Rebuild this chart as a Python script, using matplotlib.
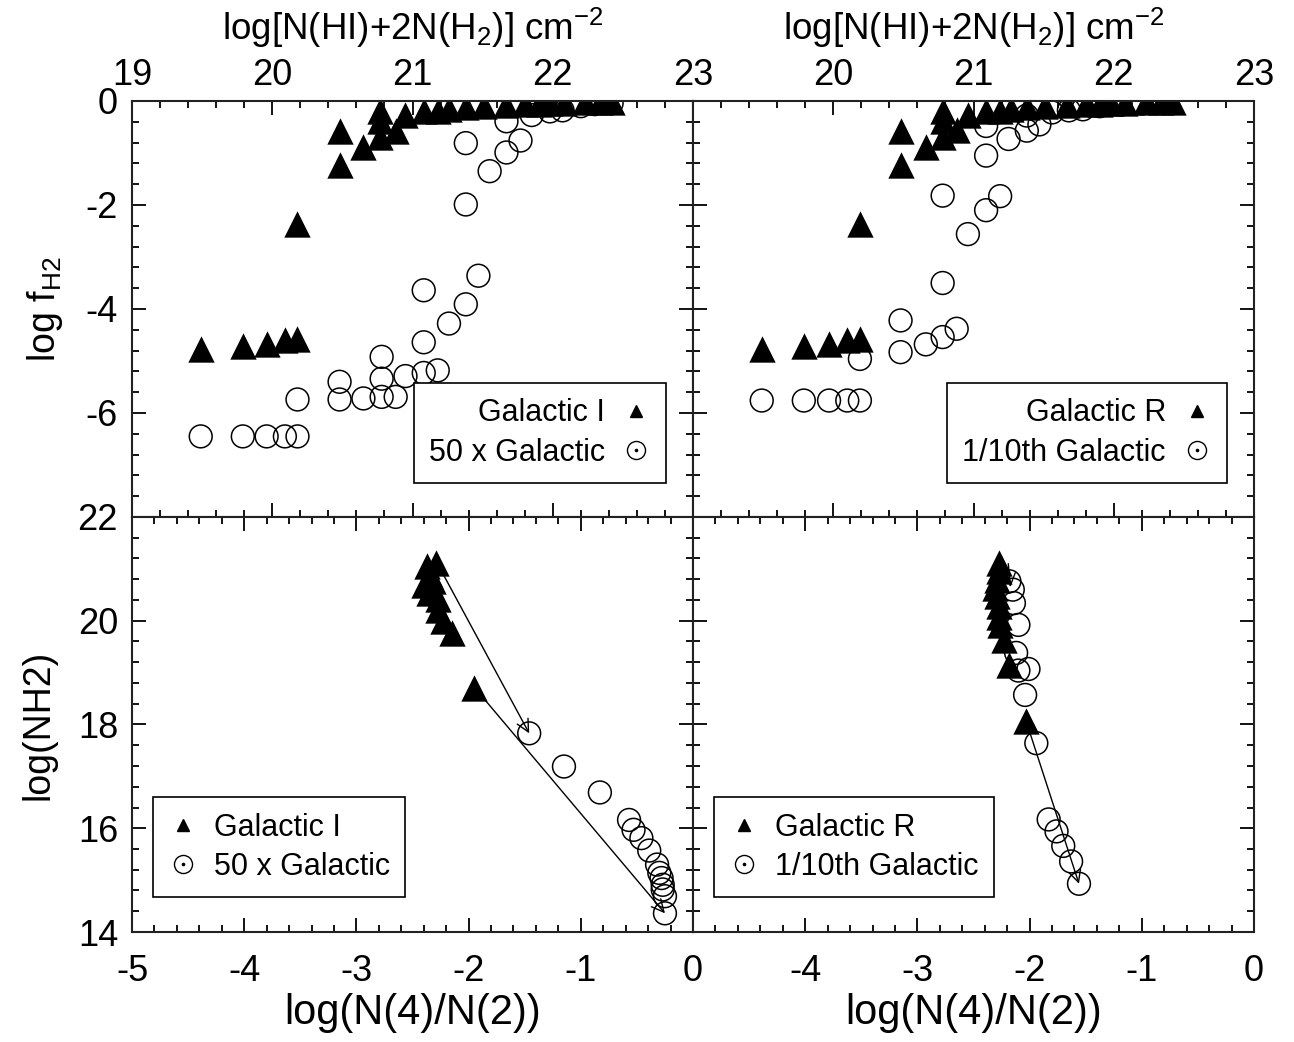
import matplotlib
matplotlib.use("Agg")
import matplotlib.pyplot as plt
from matplotlib.lines import Line2D
from matplotlib.ticker import MultipleLocator

plt.rcParams['font.family'] = ['Liberation Sans', 'DejaVu Sans']
plt.rcParams['axes.unicode_minus'] = False
plt.rcParams['mathtext.fontset'] = 'custom'
plt.rcParams['mathtext.rm'] = 'Liberation Sans'
plt.rcParams['mathtext.it'] = 'Liberation Sans'
plt.rcParams['mathtext.bf'] = 'Liberation Sans'

# top panels: log f_H2 against log[N(HI)+2N(H2)]
tl_tri_x = [19.49, 19.79, 19.96, 20.09, 20.18, 20.18, 20.48, 20.48, 20.65, 20.77, 20.77, 20.77,
            20.88, 20.95, 21.08, 21.18, 21.26, 21.38, 21.51, 21.67, 21.80, 21.90, 21.98, 22.08,
            22.23, 22.34, 22.42]
tl_tri_y = [-4.76, -4.72, -4.67, -4.60, -4.57, -2.36, -0.57, -1.24, -0.89, -0.70, -0.38, -0.20,
            -0.57, -0.27, -0.20, -0.19, -0.16, -0.12, -0.10, -0.08, -0.06, -0.05, -0.04, -0.03,
            -0.02, -0.02, -0.02]
tl_cir_x = [19.49, 19.79, 19.96, 20.09, 20.18, 20.18, 20.48, 20.48, 20.65, 20.78, 20.78, 20.78,
            20.88, 20.95, 21.08, 21.08, 21.08, 21.18, 21.26, 21.38, 21.38, 21.38, 21.47, 21.55,
            21.67, 21.67, 21.77, 21.85, 21.98, 22.07, 22.20, 22.30, 22.42]
tl_cir_y = [-6.45, -6.45, -6.45, -6.45, -6.45, -5.74, -5.74, -5.40, -5.72, -5.69, -5.34, -4.92,
            -5.69, -5.29, -5.23, -4.64, -3.64, -5.18, -4.28, -3.91, -1.99, -0.81, -3.36, -1.35,
            -0.99, -0.39, -0.76, -0.27, -0.20, -0.18, -0.10, -0.06, -0.04]

tr_tri_x = [19.49, 19.79, 19.97, 20.10, 20.19, 20.19, 20.48, 20.48, 20.66, 20.78, 20.78, 20.78,
            20.88, 20.96, 21.09, 21.19, 21.27, 21.38, 21.51, 21.67, 21.80, 21.90, 21.98, 22.08,
            22.23, 22.34, 22.42]
tr_tri_y = [-4.76, -4.72, -4.67, -4.60, -4.57, -2.36, -0.57, -1.24, -0.89, -0.70, -0.38, -0.20,
            -0.56, -0.27, -0.20, -0.19, -0.16, -0.12, -0.10, -0.08, -0.06, -0.05, -0.04, -0.03,
            -0.02, -0.02, -0.02]
tr_cir_x = [19.49, 19.79, 19.97, 20.10, 20.19, 20.19, 20.48, 20.48, 20.66, 20.78, 20.88, 20.78,
            20.96, 21.09, 21.19, 20.78, 21.09, 21.25, 21.09, 21.38, 21.47, 21.38, 21.56, 21.68,
            21.78, 21.90, 22.05, 22.20, 22.35]
tr_cir_y = [-5.76, -5.76, -5.76, -5.76, -5.76, -4.96, -4.83, -4.22, -4.68, -4.54, -4.38, -3.50,
            -2.56, -2.10, -1.83, -1.82, -1.05, -0.73, -0.48, -0.57, -0.45, -0.28, -0.22, -0.18,
            -0.16, -0.10, -0.07, -0.05, -0.04]

# bottom panels: log(NH2) against log(N(4)/N(2))
bl_tri_x = [-2.29, -2.37, -2.34, -2.40, -2.32, -2.35, -2.27, -2.27, -2.23, -2.15, -1.95]
bl_tri_y = [21.11, 21.05, 20.89, 20.69, 20.76, 20.53, 20.41, 20.21, 19.99, 19.76, 18.70]
bl_cir_x = [-1.46, -1.15, -0.83, -0.57, -0.53, -0.46, -0.39, -0.32, -0.30, -0.28, -0.27, -0.27,
            -0.25, -0.25]
bl_cir_y = [17.83, 17.19, 16.69, 16.16, 15.97, 15.81, 15.57, 15.30, 15.14, 15.04, 14.91, 14.82,
            14.69, 14.36]

br_tri_x = [-2.27, -2.27, -2.29, -2.31, -2.29, -2.27, -2.27, -2.26, -2.23, -2.18, -2.03]
br_tri_y = [21.11, 20.95, 20.79, 20.63, 20.47, 20.28, 20.08, 19.92, 19.63, 19.15, 18.06]
br_cir_x = [-2.18, -2.15, -2.14, -2.10, -2.12, -2.10, -2.01, -2.04, -1.94, -1.83, -1.76, -1.70,
            -1.63, -1.56]
br_cir_y = [20.76, 20.60, 20.34, 19.92, 19.38, 19.04, 19.07, 18.57, 17.64, 16.17, 15.94, 15.66,
            15.36, 14.93]

# arrows (start, end) in data units
bl_arrows = [((-2.29, 21.15), (-1.46, 17.83)), ((-1.95, 18.72), (-0.25, 14.36))]
br_arrows = [((-2.19, 21.10), (-2.17, 20.65)), ((-2.03, 18.06), (-1.56, 14.93))]

top_labels = [["Galactic I", "50 x Galactic"], ["Galactic R", "1/10th Galactic"]]

W, H = 1294, 1042
fig = plt.figure(figsize=(W / 100, H / 100), dpi=100)

def px_axes(x0, y0, x1, y1):
    return fig.add_axes([x0 / W, 1 - y1 / H, (x1 - x0) / W, (y1 - y0) / H])

ax_tl = px_axes(132, 101, 693, 517)
ax_tr = px_axes(693, 101, 1254, 517)
ax_bl = px_axes(132, 517, 693, 932)
ax_br = px_axes(693, 517, 1254, 932)

TICK_FS = 26
LEG_FS = 22

def style(ax):
    for s in ax.spines.values():
        s.set_linewidth(1.5)
        s.set_color('#222222')
    ax.tick_params(which='both', direction='in', top=True, bottom=True, left=True, right=True,
                   labelsize=TICK_FS, width=1.3)
    ax.tick_params(axis='x', which='major', pad=16)
    ax.tick_params(axis='y', which='major', pad=10)
    ax.tick_params(which='major', length=10)
    ax.tick_params(which='minor', length=5)

def legend_handles():
    tri = Line2D([], [], ls='none', marker='^', ms=8, color='k')
    ring = Line2D([], [], ls='none', marker='o', ms=13, mfc='none', mec='k', mew=1)
    dot = Line2D([], [], ls='none', marker='o', ms=1.6, color='k')
    return [tri, (ring, dot)]

for ax, tx, ty, cx, cy, labs in [(ax_tl, tl_tri_x, tl_tri_y, tl_cir_x, tl_cir_y, top_labels[0]),
                                  (ax_tr, tr_tri_x, tr_tri_y, tr_cir_x, tr_cir_y, top_labels[1])]:
    ax.scatter(cx, cy, marker='o', s=270, facecolors='none', edgecolors='k', linewidths=1.1)
    ax.scatter(tx, ty, marker='^', s=360, color='k', linewidths=0)
    ax.set_xlim(19, 23)
    ax.set_ylim(-8, 0)
    ax.xaxis.set_major_locator(MultipleLocator(1))
    ax.xaxis.set_minor_locator(MultipleLocator(0.2))
    ax.yaxis.set_major_locator(MultipleLocator(2))
    ax.yaxis.set_minor_locator(MultipleLocator(0.4))
    style(ax)
    ax.tick_params(labeltop=True, labelbottom=False)
    ax.tick_params(axis='x', which='major', pad=6)
    ax.set_xlabel(r"log[N(HI)+2N(H$_2$)] cm$^{-2}$", fontsize=26.5, labelpad=13)
    ax.xaxis.set_label_position('top')
    ax.legend(legend_handles(), labs, loc='lower right', bbox_to_anchor=(0.952, 0.082),
              borderaxespad=0, markerfirst=False, fancybox=False, framealpha=1,
              edgecolor='k', fontsize=LEG_FS, handlelength=1.0, handletextpad=0.5,
              borderpad=0.5, labelspacing=0.3).get_frame().set_linewidth(1.2)

for ax, tx, ty, cx, cy, arrows, labs in [
        (ax_bl, bl_tri_x, bl_tri_y, bl_cir_x, bl_cir_y, bl_arrows, top_labels[0]),
        (ax_br, br_tri_x, br_tri_y, br_cir_x, br_cir_y, br_arrows, top_labels[1])]:
    ax.scatter(cx, cy, marker='o', s=270, facecolors='none', edgecolors='k', linewidths=1.1)
    ax.scatter(tx, ty, marker='^', s=360, color='k', linewidths=0)
    for (x0, y0), (x1, y1) in arrows:
        ax.annotate('', xy=(x1, y1), xytext=(x0, y0),
                    arrowprops=dict(arrowstyle='->', lw=1, color='k', mutation_scale=22,
                                    shrinkA=0, shrinkB=0))
    ax.set_xlim(-5, 0)
    ax.set_ylim(14, 22)
    ax.xaxis.set_major_locator(MultipleLocator(1))
    ax.xaxis.set_minor_locator(MultipleLocator(0.2))
    ax.yaxis.set_major_locator(MultipleLocator(2))
    ax.yaxis.set_minor_locator(MultipleLocator(0.4))
    style(ax)
    ax.set_xlabel("log(N(4)/N(2))", fontsize=30, labelpad=3)
    ax.legend(legend_handles(), labs, loc='lower left', bbox_to_anchor=(0.037, 0.084),
              borderaxespad=0, markerfirst=True, fancybox=False, framealpha=1,
              edgecolor='k', fontsize=LEG_FS, handlelength=1.0, handletextpad=0.5,
              borderpad=0.5, labelspacing=0.3).get_frame().set_linewidth(1.2)

# hide labels that would collide at the shared edges
ax_tr.tick_params(labelleft=False)
ax_br.tick_params(labelleft=False)
ax_tr.set_xticks([20, 21, 22, 23])
ax_br.set_xticks([-4, -3, -2, -1, 0])
ax_tl.set_yticks([-6, -4, -2, 0])

ax_tl.set_ylabel(r"log f$_{\mathrm{H2}}$", fontsize=27, labelpad=15)
ax_bl.set_ylabel("log(NH2)", fontsize=27, labelpad=15)

fig.savefig("out.png", dpi=100)
